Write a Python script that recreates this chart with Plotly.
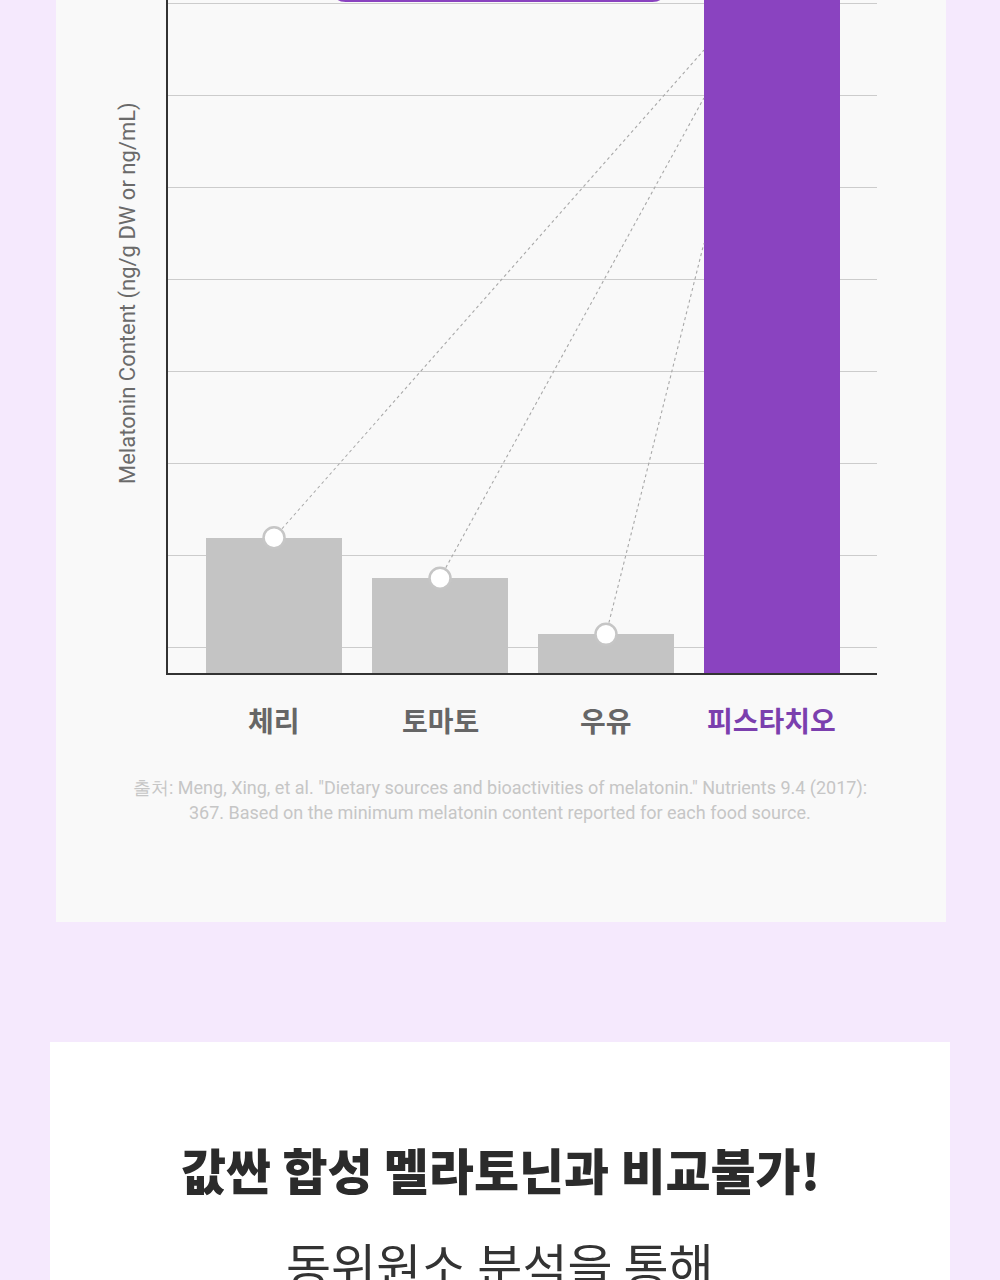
import plotly.graph_objects as go

# ---- data ----
categories = ["체리", "토마토", "우유", "피스타치오"]
values = [1.47, 1.03, 0.42, 9.0]          # relative bar heights (pistachio exceeds view)
connector_end = [6.77, 6.25, 4.67]        # where dotted lines meet the pistachio bar
grid_ticks = [0.272, 1.272, 2.272, 3.272, 4.272, 5.272, 6.272, 7.272]
bar_colors = ["#c4c4c4", "#c4c4c4", "#c4c4c4", "#8a43c0"]
label_colors = ["#666666", "#666666", "#666666", "#7b3fae"]
y_title = "Melatonin Content (ng/g DW or ng/mL)"
source_lines = [
    "출처: Meng, Xing, et al. \"Dietary sources and bioactivities of melatonin.\" Nutrients 9.4 (2017):",
    "367. Based on the minimum melatonin content reported for each food source.",
]
headline = "값싼 합성 멜라토닌과 비교불가!"
subline = "동위원소 분석을 통해"

W, H = 1000, 1280
PL, PR, PT, PB = 168, 877, 0, 673   # plot area in pixels
BAR_W = 0.82
xpos = list(range(len(categories)))

def px(x):
    return (x - PL) / (PR - PL)

def py(y):
    return (PB - y) / (PB - PT)

fig = go.Figure()

fig.add_trace(go.Bar(
    x=xpos, y=values, width=BAR_W, marker=dict(color=bar_colors, line=dict(width=0)),
    hoverinfo="skip", showlegend=False,
))

edge_x = xpos[-1] - BAR_W / 2
for i, end in enumerate(connector_end):
    fig.add_trace(go.Scatter(
        x=[xpos[i], edge_x], y=[values[i], end], mode="lines",
        line=dict(color="#a8a8a8", width=1.1, dash="dot"),
        hoverinfo="skip", showlegend=False,
    ))

fig.add_trace(go.Scatter(
    x=xpos[:3], y=values[:3], mode="markers",
    marker=dict(size=21, color="white", line=dict(color="#c6c6c6", width=2.5)),
    hoverinfo="skip", showlegend=False,
))

LAV = "#f5e9fd"
# lavender page around the grey panel
fig.add_shape(type="rect", xref="paper", yref="paper", x0=px(0), x1=px(56), y0=py(H), y1=1.0,
              fillcolor=LAV, line=dict(width=0), layer="below")
fig.add_shape(type="rect", xref="paper", yref="paper", x0=px(946), x1=px(W), y0=py(H), y1=1.0,
              fillcolor=LAV, line=dict(width=0), layer="below")
fig.add_shape(type="rect", xref="paper", yref="paper", x0=px(0), x1=px(W), y0=py(H), y1=py(922),
              fillcolor=LAV, line=dict(width=0), layer="below")
# white card
fig.add_shape(type="rect", xref="paper", yref="paper", x0=px(50), x1=px(950), y0=py(H), y1=py(1042),
              fillcolor="#ffffff", line=dict(width=0), layer="below")
# purple label box (cut off at top)
x0, x1, yb = px(335), px(663), py(2)
fig.add_shape(type="path", xref="paper", yref="paper",
              path=f"M {x0},1 L {x0},{yb + 0.012} Q {x0},{yb} {x0 + 0.015},{yb} "
                   f"L {x1 - 0.015},{yb} Q {x1},{yb} {x1},{yb + 0.012} L {x1},1 Z",
              fillcolor="#8a43c0", line=dict(width=0), layer="above")

annotations = []
for i, (c, col) in enumerate(zip(categories, label_colors)):
    annotations.append(dict(
        x=xpos[i], y=py(720), xref="x", yref="paper", text=f"<b>{c}</b>", showarrow=False,
        xanchor="center", yanchor="middle",
        font=dict(family="Noto Sans CJK KR", size=28, color=col),
    ))
annotations.append(dict(
    x=px(128), y=py(293), xref="paper", yref="paper", text=y_title, textangle=-90,
    showarrow=False, xanchor="center", yanchor="middle",
    font=dict(family="Roboto", size=22, color="#6a6a6a"),
))
for j, line in enumerate(source_lines):
    annotations.append(dict(
        x=px(500), y=py(788 + 24 * j), xref="paper", yref="paper", text=line, showarrow=False,
        xanchor="center", yanchor="middle",
        font=dict(family="Roboto", size=18, color="#c6c6c6"),
    ))
annotations.append(dict(
    x=px(500), y=py(1168), xref="paper", yref="paper", text=headline, showarrow=False,
    xanchor="center", yanchor="middle",
    font=dict(family="Noto Sans CJK KR", size=49, color="#2b2b2b", weight=900),
))
annotations.append(dict(
    x=px(500), y=py(1263), xref="paper", yref="paper", text=subline, showarrow=False,
    xanchor="center", yanchor="middle",
    font=dict(family="Noto Sans CJK KR", size=49, color="#333333", weight=400),
))

fig.update_layout(
    width=W, height=H,
    margin=dict(l=PL, r=W - PR, t=PT, b=H - PB, pad=0),
    paper_bgcolor="#f9f9f9", plot_bgcolor="#f9f9f9",
    annotations=annotations,
    bargap=0,
    xaxis=dict(range=[-0.639, 3.633], showticklabels=False, showgrid=False, zeroline=False,
               showline=True, linecolor="#333333", linewidth=2, ticks="", fixedrange=True),
    yaxis=dict(range=[0, (PB - PT) / 92], tickvals=grid_ticks, showticklabels=False,
               showgrid=True, gridcolor="#cccccc", gridwidth=1, zeroline=False,
               showline=True, linecolor="#333333", linewidth=1.5, ticks="", fixedrange=True),
)

fig.write_html("out.html", config={"displayModeBar": False})
